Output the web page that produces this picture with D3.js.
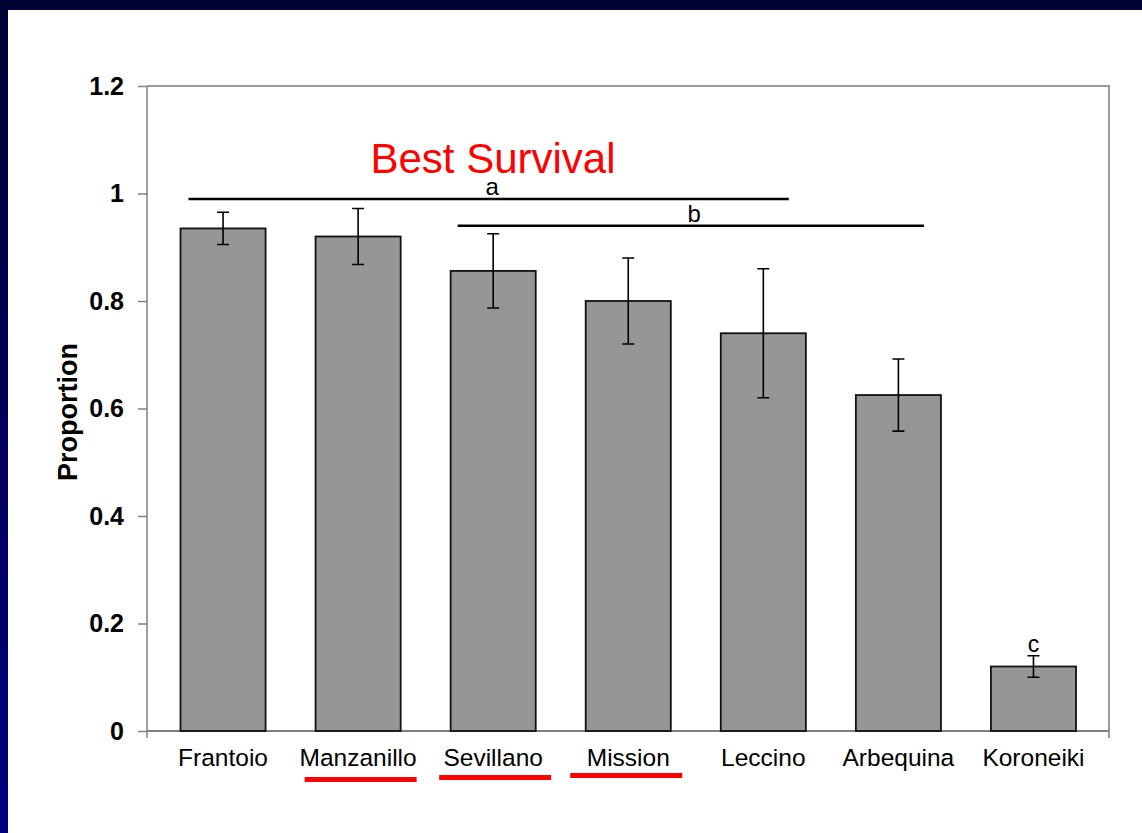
<!DOCTYPE html>
<html>
<head>
<meta charset="utf-8">
<script src="https://cdn.jsdelivr.net/npm/d3@7"></script>
<style>
  html, body { margin: 0; padding: 0; background: #fff; }
  svg { display: block; font-family: Arial, "Liberation Sans", sans-serif; }
</style>
</head>
<body>
<svg id="chart" width="1142" height="833"></svg>
<script>
// Olive cultivar survival proportions with standard errors
const cultivars = ["Frantoio", "Manzanillo", "Sevillano", "Mission", "Leccino", "Arbequina", "Koroneiki"];
const proportion = [0.935, 0.92, 0.856, 0.80, 0.74, 0.625, 0.12];
const stdError = [0.03, 0.052, 0.069, 0.08, 0.12, 0.067, 0.02];
const yTicks = [0, 0.2, 0.4, 0.6, 0.8, 1, 1.2];
const highlighted = ["Manzanillo", "Sevillano", "Mission"];
// Significance groups: letter, first and last cultivar spanned, bar height
const groupLetters = ["a", "b"];
const groupFrom = ["Frantoio", "Sevillano"];
const groupTo = ["Mission", "Arbequina"];
const groupLevel = [0.99, 0.94];
const koroneikiLetter = "c";

const svg = d3.select("#chart");
const W = 1142, H = 833;

// Slide frame: dark navy top band and a left band shading toward blue
const defs = svg.append("defs");
const grad = defs.append("linearGradient").attr("id", "sideGrad")
  .attr("x1", 0).attr("y1", 0).attr("x2", 0).attr("y2", 1);
grad.append("stop").attr("offset", "0%").attr("stop-color", "#000033");
grad.append("stop").attr("offset", "100%").attr("stop-color", "#000080");
svg.append("rect").attr("x", 0).attr("y", 0).attr("width", W).attr("height", H).attr("fill", "#fff");
svg.append("rect").attr("x", 0).attr("y", 0).attr("width", 8).attr("height", H).attr("fill", "url(#sideGrad)");
svg.append("rect").attr("x", 0).attr("y", 0).attr("width", W).attr("height", 10).attr("fill", "#000033");

const plot = { left: 147, right: 1109, top: 86, bottom: 731 };

const x = d3.scaleBand()
  .domain(cultivars)
  .range([plot.left + 8.5, plot.right - 8])
  .paddingInner(0.37)
  .paddingOuter(0.185);
const mid = c => x(c) + x.bandwidth() / 2;

const y = d3.scaleLinear().domain([0, 1.2]).range([plot.bottom, plot.top]);

// Plot frame (top and right edges)
svg.append("path")
  .attr("d", `M${plot.left},${plot.top}H${plot.right}V${plot.bottom + 7}`)
  .attr("fill", "none").attr("stroke", "#9a9a9a").attr("stroke-width", 2);

// Y axis
const yAxis = svg.append("g")
  .attr("transform", `translate(${plot.left},0)`)
  .call(d3.axisLeft(y).tickValues(yTicks).tickSize(9).tickPadding(14)
    .tickFormat(d => d === 0 ? "0" : d3.format("")(d)));
yAxis.select(".domain").attr("stroke", "#808080").attr("stroke-width", 1.5)
  .attr("d", `M0,${plot.top}V${plot.bottom + 7}`);
yAxis.selectAll(".tick line").attr("stroke", "#808080").attr("stroke-width", 1.5);
yAxis.selectAll(".tick text")
  .attr("fill", "#000").attr("font-size", 25).attr("font-weight", "bold")
  .attr("font-family", "Arial, 'Liberation Sans', sans-serif");

// X axis baseline
svg.append("line")
  .attr("x1", plot.left).attr("x2", plot.right)
  .attr("y1", plot.bottom).attr("y2", plot.bottom)
  .attr("stroke", "#808080").attr("stroke-width", 2);

// Bars
svg.append("g").selectAll("rect")
  .data(cultivars)
  .join("rect")
  .attr("x", d => x(d))
  .attr("y", (d, i) => y(proportion[i]))
  .attr("width", x.bandwidth())
  .attr("height", (d, i) => y(0) - y(proportion[i]))
  .attr("fill", "#969696")
  .attr("stroke", "#111")
  .attr("stroke-width", 1.8);

// Error bars
const eb = svg.append("g").attr("stroke", "#000").attr("stroke-width", 1.6).attr("fill", "none");
cultivars.forEach((c, i) => {
  const cx = mid(c);
  const hi = y(proportion[i] + stdError[i]);
  const lo = y(proportion[i] - stdError[i]);
  eb.append("path")
    .attr("d", `M${cx},${hi}V${lo}M${cx - 6},${hi}H${cx + 6}M${cx - 6},${lo}H${cx + 6}`);
});

// Category labels
svg.append("g").selectAll("text")
  .data(cultivars)
  .join("text")
  .attr("x", d => mid(d))
  .attr("y", 766)
  .attr("text-anchor", "middle")
  .attr("font-size", 24.5)
  .attr("fill", "#000")
  .text(d => d);

// Hand-drawn red underlines for highlighted cultivars
const underlineShift = [2.5, 2, -2];
const underlineY = [777, 775, 773];
svg.append("g").selectAll("rect")
  .data(highlighted)
  .join("rect")
  .attr("x", (d, i) => mid(d) + underlineShift[i] - 56)
  .attr("y", (d, i) => underlineY[i])
  .attr("width", 112)
  .attr("height", 5)
  .attr("fill", "#ff0000");

// Y axis title
svg.append("text")
  .attr("transform", `translate(77,${(340 + 484) / 2}) rotate(-90)`)
  .attr("text-anchor", "middle")
  .attr("font-size", 27)
  .attr("font-weight", "bold")
  .attr("fill", "#000")
  .text("Proportion");

// Significance group lines with their letters
const groupStartInset = [8, 7];
const groupEndOverhang = [118, -17];
const groupLetterDy = [-4, -4];
groupLetters.forEach((g, i) => {
  const x1 = x(groupFrom[i]) + groupStartInset[i];
  const x2 = x(groupTo[i]) + x.bandwidth() + groupEndOverhang[i];
  const yy = y(groupLevel[i]);
  svg.append("line")
    .attr("x1", x1).attr("x2", x2)
    .attr("y1", yy).attr("y2", yy)
    .attr("stroke", "#000").attr("stroke-width", 2.5);
  svg.append("text")
    .attr("x", (x1 + x2) / 2 + 3.5)
    .attr("y", yy + groupLetterDy[i])
    .attr("text-anchor", "middle")
    .attr("font-size", 24).attr("fill", "#000")
    .text(g);
});

// Letter above Koroneiki
{
  const i = cultivars.indexOf("Koroneiki");
  svg.append("text")
    .attr("x", mid("Koroneiki"))
    .attr("y", y(proportion[i] + stdError[i]) - 4)
    .attr("text-anchor", "middle")
    .attr("font-size", 23).attr("fill", "#000")
    .text(koroneikiLetter);
}

// Headline
svg.append("text")
  .attr("x", 493).attr("y", 172.5)
  .attr("text-anchor", "middle")
  .attr("font-size", 42)
  .attr("fill", "#ff0000")
  .text("Best Survival");
</script>
</body>
</html>
